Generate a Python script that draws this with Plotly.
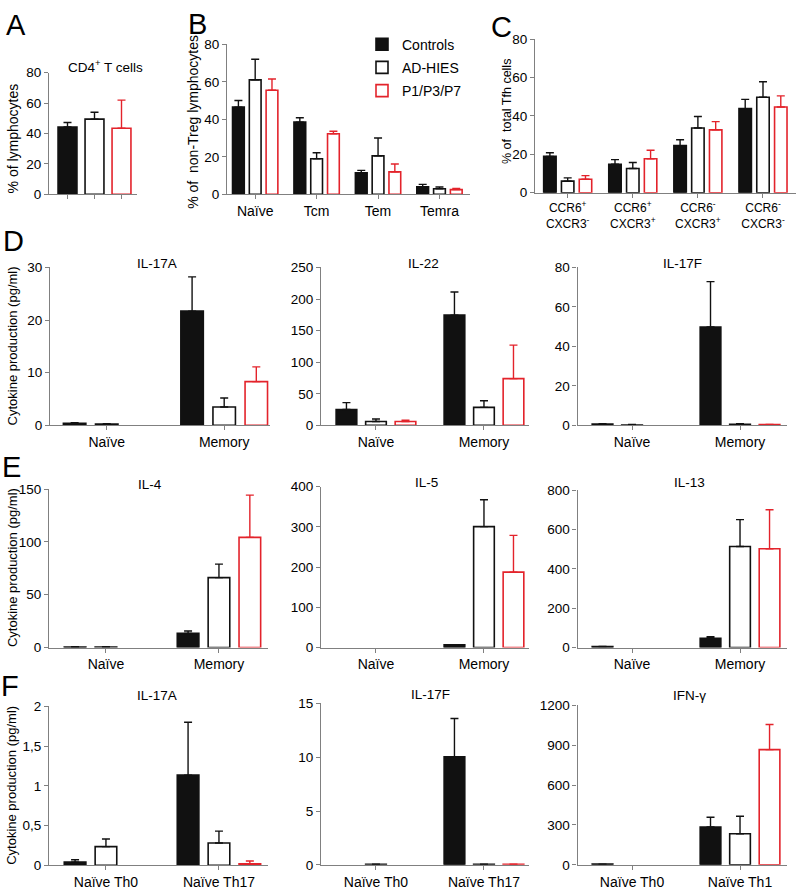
import plotly.graph_objects as go

W, H = 797, 890
SERIES = ["Controls", "AD-HIES", "P1/P3/P7"]

# ---------------- data ----------------
# Panel A: CD4+ T cells
a_cats = ["Controls", "AD-HIES", "P1/P3/P7"]
a_mean = [44.3, 49.5, 43.5]
a_err = [3.0, 4.5, 18.5]

# Panel B
b_cats = ["Naïve", "Tcm", "Tem", "Temra"]
b_ctrl = [46.5, 38.5, 11.5, 4.0]
b_ctrl_err = [3.5, 2.3, 1.3, 1.3]
b_ad = [61.0, 19.0, 20.5, 3.0]
b_ad_err = [11.0, 3.2, 9.5, 0.9]
b_p = [55.5, 32.3, 12.0, 2.5]
b_p_err = [6.0, 1.3, 4.2, 0.7]

# Panel C
c_cats = ["CCR6+ CXCR3-", "CCR6+ CXCR3+", "CCR6- CXCR3+", "CCR6- CXCR3-"]
c_labels = ["CCR6<sup>+</sup><br>CXCR3<sup>-</sup>", "CCR6<sup>+</sup><br>CXCR3<sup>+</sup>",
            "CCR6<sup>-</sup><br>CXCR3<sup>+</sup>", "CCR6<sup>-</sup><br>CXCR3<sup>-</sup>"]
c_ctrl = [18.9, 14.8, 24.5, 43.8]
c_ctrl_err = [1.9, 2.4, 3.1, 4.8]
c_ad = [6.0, 12.6, 33.7, 49.7]
c_ad_err = [1.7, 3.1, 6.0, 8.1]
c_p = [7.0, 17.7, 32.7, 44.6]
c_p_err = [1.9, 4.4, 4.3, 5.8]

# Row D/E
de_cats = ["Naïve", "Memory"]
d1_ctrl = [0.4, 21.7]; d1_ctrl_err = [0.1, 6.5]
d1_ad = [0.25, 3.5];   d1_ad_err = [0.05, 1.7]
d1_p = [None, 8.3];    d1_p_err = [None, 2.8]

d2_ctrl = [25, 174.5]; d2_ctrl_err = [11, 36.5]
d2_ad = [6, 28.5];     d2_ad_err = [4, 10.5]
d2_p = [6, 74];        d2_p_err = [2, 53]

d3_ctrl = [0.6, 49.8]; d3_ctrl_err = [0.2, 23]
d3_ad = [0.2, 0.5];    d3_ad_err = [0.2, 0.3]
d3_p = [None, 0.4];    d3_p_err = [None, 0.1]

e1_ctrl = [0.5, 13.4]; e1_ctrl_err = [0.2, 2.2]
e1_ad = [0.5, 66.2];   e1_ad_err = [0.3, 12.8]
e1_p = [None, 104.3];  e1_p_err = [None, 40]

e2_ctrl = [None, 6.5]; e2_ctrl_err = [None, 0.5]
e2_ad = [None, 300.6]; e2_ad_err = [None, 67]
e2_p = [None, 187.4];  e2_p_err = [None, 91.4]

e3_ctrl = [5, 47];     e3_ctrl_err = [1, 8]
e3_ad = [None, 513];   e3_ad_err = [None, 137]
e3_p = [None, 502];    e3_p_err = [None, 198]

# Row F
f1_cats = ["Naïve Th0", "Naïve Th17"]
f1_ctrl = [0.04, 1.135]; f1_ctrl_err = [0.03, 0.665]
f1_ad = [0.235, 0.28];   f1_ad_err = [0.095, 0.15]
f1_p = [None, 0.02];     f1_p_err = [None, 0.033]
f1_ticks = [0, 0.5, 1, 1.5, 2]
f1_ticktext = ["0", "0,5", "1", "1,5", "2"]

f2_cats = ["Naïve Th0", "Naïve Th17"]
f2_ctrl = [None, 10.03]; f2_ctrl_err = [None, 3.57]
f2_ad = [0.05, 0.05];    f2_ad_err = [0, 0]
f2_p = [None, 0.05];     f2_p_err = [None, 0]

f3_cats = ["Naïve Th0", "Naïve Th1"]
f3_ctrl = [5, 284];    f3_ctrl_err = [0, 74]
f3_ad = [None, 234];   f3_ad_err = [None, 131]
f3_p = [None, 867];    f3_p_err = [None, 189]

# ---------------- styles ----------------
RED = "#e3232b"
BLK = "#111111"
STYLE = {
    "Controls": dict(fill=BLK, line=BLK),
    "AD-HIES": dict(fill="white", line=BLK),
    "P1/P3/P7": dict(fill="white", line=RED),
}
AXC = "#808080"
FONT = "Arial, Liberation Sans, sans-serif"

# geometry in px: x_left, x_right, y_top, y_bottom, xrange
panels = [
    dict(id="A", cats=a_cats, data=None, ymax=80, dtick=20,
         g=(49, 137, 67, 191), xr=(-0.685, 2.574), title="CD4<sup>+</sup> T cells", tpos=(105, 60)),
    dict(id="B", cats=b_cats, data=[(b_ctrl, b_ctrl_err), (b_ad, b_ad_err), (b_p, b_p_err)],
         ymax=80, dtick=20, g=(227, 470, 38, 191), xr=(-0.459, 3.497)),
    dict(id="C", cats=c_cats, labels=c_labels, data=[(c_ctrl, c_ctrl_err), (c_ad, c_ad_err), (c_p, c_p_err)],
         ymax=80, dtick=20, g=(535, 796, 32.7, 189.3), xr=(-0.502, 3.507), xfont=12),
    dict(id="D1", cats=de_cats, data=[(d1_ctrl, d1_ctrl_err), (d1_ad, d1_ad_err), (d1_p, d1_p_err)],
         ymax=30, dtick=10, g=(50, 270, 265.5, 426.5), xr=(-0.483, 1.39), title="IL-17A", tpos=(157, 261)),
    dict(id="D2", cats=de_cats, data=[(d2_ctrl, d2_ctrl_err), (d2_ad, d2_ad_err), (d2_p, d2_p_err)],
         ymax=250, dtick=50, g=(321, 529, 265.5, 426.5), xr=(-0.509, 1.417), title="IL-22", tpos=(424, 261)),
    dict(id="D3", cats=de_cats, data=[(d3_ctrl, d3_ctrl_err), (d3_ad, d3_ad_err), (d3_p, d3_p_err)],
         ymax=80, dtick=20, g=(577.5, 787, 265.5, 426.5), xr=(-0.505, 1.435), title="IL-17F", tpos=(682, 261)),
    dict(id="E1", cats=de_cats, data=[(e1_ctrl, e1_ctrl_err), (e1_ad, e1_ad_err), (e1_p, e1_p_err)],
         ymax=150, dtick=50, g=(49, 268, 491.5, 653), xr=(-0.504, 1.434), title="IL-4", tpos=(150, 487)),
    dict(id="E2", cats=de_cats, data=[(e2_ctrl, e2_ctrl_err), (e2_ad, e2_ad_err), (e2_p, e2_p_err)],
         ymax=400, dtick=100, g=(321, 529, 489, 653), xr=(-0.509, 1.417), title="IL-5", tpos=(426, 485)),
    dict(id="E3", cats=de_cats, data=[(e3_ctrl, e3_ctrl_err), (e3_ad, e3_ad_err), (e3_p, e3_p_err)],
         ymax=800, dtick=200, g=(577.5, 787, 492.5, 653), xr=(-0.505, 1.435), title="IL-13", tpos=(689, 485)),
    dict(id="F1", cats=f1_cats, data=[(f1_ctrl, f1_ctrl_err), (f1_ad, f1_ad_err), (f1_p, f1_p_err)],
         ymax=2, tickvals=f1_ticks, ticktext=f1_ticktext, g=(49, 268, 713, 875), xr=(-0.504, 1.434),
         title="IL-17A", tpos=(157, 702)),
    dict(id="F2", cats=f2_cats, data=[(f2_ctrl, f2_ctrl_err), (f2_ad, f2_ad_err), (f2_p, f2_p_err)],
         ymax=15, dtick=5, g=(321, 529, 710, 874.5), xr=(-0.509, 1.417), title="IL-17F", tpos=(430, 701)),
    dict(id="F3", cats=f3_cats, data=[(f3_ctrl, f3_ctrl_err), (f3_ad, f3_ad_err), (f3_p, f3_p_err)],
         ymax=1200, dtick=300, g=(577.5, 787, 712, 874.5), xr=(-0.505, 1.435), title="IFN-γ", tpos=(689, 702)),
]

fig = go.Figure()
layout = dict(
    width=W, height=H, autosize=False,
    margin=dict(l=0, r=0, t=0, b=0),
    paper_bgcolor="white", plot_bgcolor="white",
    font=dict(family=FONT, color="black", size=13),
    barmode="group", bargap=0.18, bargroupgap=0.3,
    showlegend=True,
    legend=dict(x=362 / W, y=1 - 22 / H, xanchor="left", yanchor="top",
                font=dict(size=14, family=FONT), bgcolor="rgba(0,0,0,0)",
                tracegroupgap=2, itemclick=False),
)
annotations = []

for i, p in enumerate(panels, start=1):
    xa = "x" if i == 1 else f"x{i}"
    ya = "y" if i == 1 else f"y{i}"
    xl, xr_, yt, yb = p["g"]
    if p["id"] == "A":
        for s, cat, m, e in zip(SERIES, a_cats, a_mean, a_err):
            st = STYLE[s]
            fig.add_trace(go.Bar(
                x=[cat], y=[m], name=s, xaxis=xa, yaxis=ya, offsetgroup="A", width=0.7,
                marker=dict(color=st["fill"], line=dict(color=st["line"], width=1.6)),
                error_y=dict(type="data", symmetric=False, array=[e], arrayminus=[0],
                             color=st["line"], thickness=1.4, width=4),
                legendgroup=s, showlegend=False, hoverinfo="skip"))
    else:
        for s, (vals, errs) in zip(SERIES, p["data"]):
            st = STYLE[s]
            fig.add_trace(go.Bar(
                x=p["cats"], y=vals, name=s, xaxis=xa, yaxis=ya,
                marker=dict(color=st["fill"], line=dict(color=st["line"], width=1.6)),
                error_y=dict(type="data", symmetric=False, array=errs,
                             arrayminus=[0 if v is not None else None for v in errs],
                             color=st["line"], thickness=1.4, width=4),
                legendgroup=s, showlegend=(p["id"] == "B"), hoverinfo="skip"))
    xkey = "xaxis" if i == 1 else f"xaxis{i}"
    ykey = "yaxis" if i == 1 else f"yaxis{i}"
    labels = p.get("labels", p["cats"] if p["id"] != "A" else [" ", " ", " "])
    layout[xkey] = dict(
        domain=[xl / W, xr_ / W], anchor=ya, type="category", range=list(p["xr"]),
        categoryorder="array", categoryarray=p["cats"],
        tickmode="array", tickvals=p["cats"], ticktext=labels,
        showline=True, linecolor=AXC, linewidth=1.2, ticks="outside", ticklen=4,
        tickcolor=AXC, tickwidth=1.2, showgrid=False, zeroline=False,
        tickfont=dict(size=p.get("xfont", 14), family=FONT, color="black"), fixedrange=True)
    ydict = dict(
        domain=[1 - yb / H, 1 - yt / H], anchor=xa, range=[0, p["ymax"]],
        showline=True, linecolor=AXC, linewidth=1.2, ticks="outside", ticklen=4,
        tickcolor=AXC, tickwidth=1.2, showgrid=False, zeroline=False,
        tickfont=dict(size=13.5, family=FONT, color="black"), fixedrange=True)
    if "tickvals" in p:
        ydict.update(tickmode="array", tickvals=p["tickvals"], ticktext=p["ticktext"])
    else:
        ydict.update(tickmode="linear", tick0=0, dtick=p["dtick"])
    layout[ykey] = ydict
    if "title" in p:
        tx, ty = p["tpos"]
        annotations.append(dict(text=p["title"], x=tx / W, y=1 - ty / H, xref="paper", yref="paper",
                                showarrow=False, xanchor="center", yanchor="middle",
                                font=dict(size=13.5, family=FONT)))

# panel letters
for letter, (lx, ly) in zip("ABCDEF", [(16, 18), (197, 17), (502, 20), (13, 239), (11, 469), (10, 692)]):
    annotations.append(dict(text=letter, x=lx / W, y=1 - ly / H, xref="paper", yref="paper",
                            showarrow=False, xanchor="center", yanchor="middle",
                            font=dict(size=29, family=FONT)))

# y-axis labels
ylabels = [
    ("% of lymphocytes", 13, 134, 14),
    ("% of  non-Treg lymphocytes", 193, 117, 14),
    ("% of  total Tfh cells", 507, 106, 12.5),
    ("Cytokine production (pg/ml)", 12, 346, 13),
    ("Cytokine production (pg/ml)", 12, 572, 13),
    ("Cytokine production (pg/ml)", 12, 794, 13),
]
for txt, lx, ly, fs in ylabels:
    annotations.append(dict(text=txt, x=lx / W, y=1 - ly / H, xref="paper", yref="paper",
                            showarrow=False, xanchor="center", yanchor="middle", textangle=-90,
                            font=dict(size=fs, family=FONT)))

layout["annotations"] = annotations
fig.update_layout(**layout)
fig.write_html("out.html", config={"displayModeBar": False},
               post_script="document.body.style.margin='0';document.body.style.overflow='hidden';")
